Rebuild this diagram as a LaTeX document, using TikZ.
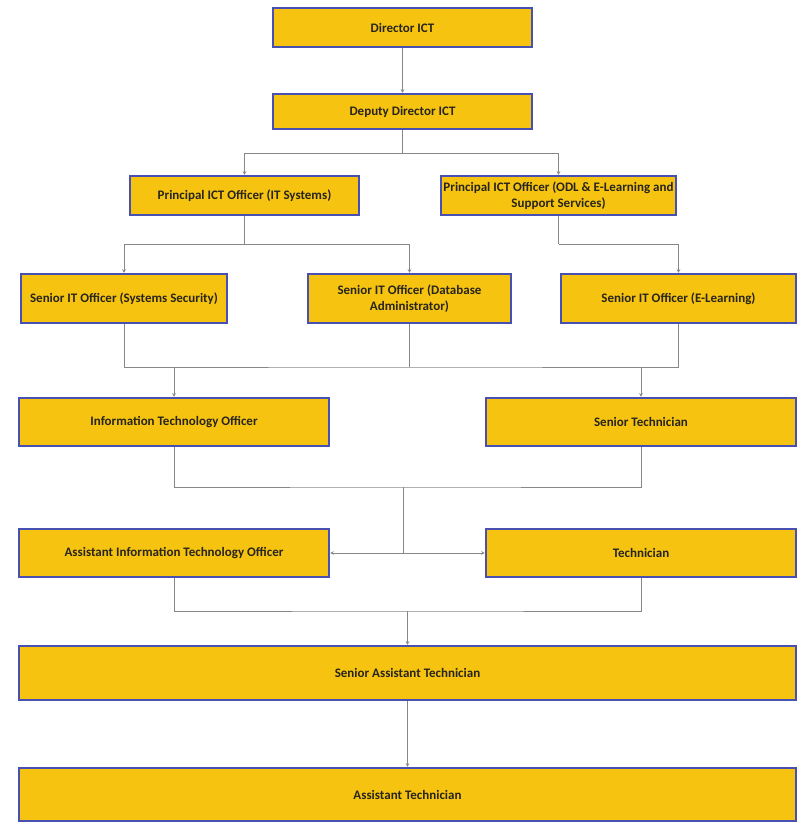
\documentclass[tikz,border=0pt]{standalone}
\usepackage{fontspec}
\setmainfont{Carlito}
\usetikzlibrary{arrows.meta}
\definecolor{cyellow}{RGB}{246,196,16}
\definecolor{cblue}{RGB}{72,80,178}
\definecolor{cline}{RGB}{135,135,135}
\definecolor{ctext}{RGB}{40,36,30}
\tikzset{orgbox/.style={draw=cblue,fill=cyellow,line width=2.5pt,align=center,inner sep=2pt,
    text=ctext,font=\bfseries\fontsize{13}{15.5}\selectfont},
  link/.style={draw=cline,line width=0.7pt},
  arr/.style={link,-{Stealth[length=3.5pt,width=3.5pt]}}}

\begin{document}
\begin{tikzpicture}[x=1pt,y=-1pt]
  \useasboundingbox (0,0) rectangle (807,823);
  % boxes
  \node[orgbox,minimum width=259,minimum height=39] (dir)  at (402.5,27.5)  {Director ICT};
  \node[orgbox,minimum width=259,minimum height=35] (dep)  at (402.5,111.5) {Deputy Director ICT};
  \node[orgbox,minimum width=229,minimum height=39] (pit)  at (244.5,195.5) {Principal ICT Officer (IT Systems)};
  \node[orgbox,minimum width=235,minimum height=39] (podl) at (558.5,195.5) {Principal ICT Officer (ODL \& E-Learning and\\Support Services)};
  \node[orgbox,minimum width=206,minimum height=49] (ssec) at (124,298.5)   {Senior IT Officer (Systems Security)};
  \node[orgbox,minimum width=203,minimum height=49] (sdb)  at (409.5,298.5) {Senior IT Officer (Database\\Administrator)};
  \node[orgbox,minimum width=235,minimum height=49] (selr) at (678.5,298.5) {Senior IT Officer (E-Learning)};
  \node[orgbox,minimum width=310,minimum height=48] (ito)  at (174,422)     {Information Technology Officer};
  \node[orgbox,minimum width=310,minimum height=48] (stech) at (641,422)    {Senior Technician};
  \node[orgbox,minimum width=310,minimum height=48] (aito) at (174,553)     {Assistant Information Technology Officer};
  \node[orgbox,minimum width=310,minimum height=48] (tech) at (641,553)     {Technician};
  \node[orgbox,minimum width=777,minimum height=54] (sat)  at (407.5,673)   {Senior Assistant Technician};
  \node[orgbox,minimum width=777,minimum height=53] (at)   at (407.5,794.5) {Assistant Technician};
  % junctions
  \coordinate (j1) at (402.5,153);
  \coordinate (j2) at (244.5,244);
  \coordinate (j3) at (558.5,244);
  \coordinate (j4) at (409.5,367);
  \coordinate (j5) at (403,487);
  \coordinate (j6) at (403,553);
  \coordinate (j7) at (407.5,611);
  % connectors
  \draw[arr] (dir) -- (dep);
  \draw[link] (dep) -- (j1);
  \draw[arr] (j1) -| (pit.north);
  \draw[arr] (j1) -| (podl.north);
  \draw[link] (pit) -- (j2);
  \draw[arr] (j2) -| (ssec.north);
  \draw[arr] (j2) -| (sdb.north);
  \draw[link] (podl) -- (j3);
  \draw[arr] (j3) -| (selr.north);
  \draw[link] (ssec.south) |- (j4) -| (selr.south);
  \draw[link] (sdb) -- (j4);
  \draw[arr] (ito.north |- j4) -- (ito.north);
  \draw[arr] (stech.north |- j4) -- (stech.north);
  \draw[link] (ito.south) |- (j5) -| (stech.south);
  \draw[link] (j5) -- (j6);
  \draw[arr] (j6) -- (aito.east);
  \draw[arr] (j6) -- (tech.west);
  \draw[link] (aito.south) |- (j7) -| (tech.south);
  \draw[arr] (j7) -- (sat);
  \draw[arr] (sat) -- (at);
\end{tikzpicture}
\end{document}
